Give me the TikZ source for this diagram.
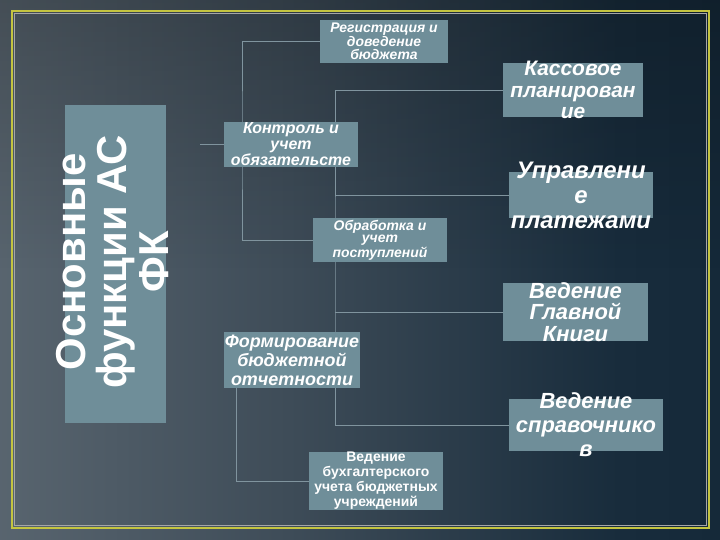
\documentclass[tikz,border=0pt]{standalone}
\usepackage{fontspec}
\setmainfont{Liberation Sans}
\usepackage{xcolor}
\usepackage{tikz}

\definecolor{bgA}{RGB}{74,84,94}
\definecolor{bgB}{RGB}{92,104,114}
\definecolor{bgC}{RGB}{62,76,88}
\definecolor{bgD}{RGB}{24,44,60}
\definecolor{bgE}{RGB}{10,30,46}
\definecolor{boxfill}{RGB}{111,142,153}
\definecolor{connline}{RGB}{128,148,158}
\definecolor{frameyel}{RGB}{196,196,64}
\pgfdeclarehorizontalshading{slidebg}{100bp}{color(0bp)=(bgA); color(22bp)=(bgB); color(45bp)=(bgC); color(68bp)=(bgD); color(100bp)=(bgE)}

\begin{document}
\begin{tikzpicture}[
    x=1bp, y=-1bp,
    box/.style={rectangle, fill=boxfill, inner sep=0pt},
    txt/.style={text=white, align=center, inner sep=0pt, font=\bfseries\itshape},
    conn/.style={connline, line width=0.7bp}
]
\useasboundingbox (0,0) rectangle (720,540);

% background and frame
\shade[shading=slidebg] (0,0) rectangle (720,540);
\begin{scope}[blend mode=multiply]
\shade[top color=black!22, bottom color=white, middle color=white] (0,0) rectangle (720,540);
\end{scope}
\draw[frameyel, line width=2bp] (12,11) rectangle (709,528);
\draw[gray!70, line width=0.5bp] (14.5,13.5) rectangle (706.5,525.5);

\coordinate (busL) at (242,140);
\coordinate (busR) at (335,300);
\coordinate (kstub) at (200,144.5);

\node[box, minimum width=128bp, minimum height=43bp] (reg) at (384,41.5) {};
\node[box, minimum width=134bp, minimum height=45bp] (kon) at (291,144.5) {};
\node[box, minimum width=134bp, minimum height=44bp] (obr) at (380,240) {};
\node[box, minimum width=136bp, minimum height=56bp] (form) at (292,360) {};
\node[box, minimum width=134bp, minimum height=58bp] (buh) at (376,481) {};
\node[box, minimum width=140bp, minimum height=54bp] (kass) at (573,90) {};
\node[box, minimum width=144bp, minimum height=46bp] (upr) at (581,195) {};
\node[box, minimum width=145bp, minimum height=58bp] (glav) at (575.5,312) {};
\node[box, minimum width=154bp, minimum height=52bp] (sprav) at (586,425) {};
\node[box, minimum width=101bp, minimum height=318bp] (main) at (115.5,264) {};

% connectors
\draw[conn] (reg.west) -| (busL) |- (obr.west);
\draw[conn] (kstub) -- (kon.west);
\draw[conn] ([xshift=13bp]form.south west) |- (buh.west);
\draw[conn] (kass.west) -| (busR) |- (sprav.west);
\draw[conn] (upr.west) -- (upr.west -| busR);
\draw[conn] (glav.west) -- (glav.west -| busR);

% boxes again on top of the lines
\foreach \b in {reg,kon,obr,form,buh,kass,upr,glav,sprav,main}
  \fill[boxfill] (\b.north west) rectangle (\b.south east);

\node[txt, font=\bfseries\itshape\fontsize{14}{13}\selectfont] at (reg) {Регистрация и\\доведение\\бюджета};
\node[txt, font=\bfseries\itshape\fontsize{16}{16}\selectfont] at (kon) {Контроль и\\учет\\обязательсте};
\node[txt, font=\bfseries\itshape\fontsize{14}{13}\selectfont] at (obr) {Обработка и\\учет\\поступлений};
\node[txt, font=\bfseries\itshape\fontsize{18}{19}\selectfont] at (form) {Формирование\\бюджетной\\отчетности};
\node[txt, font=\bfseries\fontsize{14}{15}\selectfont] at (buh) {Ведение\\бухгалтерского\\учета бюджетных\\учреждений};
\node[txt, font=\bfseries\itshape\fontsize{21}{21.5}\selectfont] at (kass) {Кассовое\\планирован\\ие};
\node[txt, font=\bfseries\itshape\fontsize{24}{25}\selectfont] at (upr) {Управлени\\е\\платежами};
\node[txt, font=\bfseries\itshape\fontsize{22}{21.5}\selectfont] at (glav) {Ведение\\Главной\\Книги};
\node[txt, font=\bfseries\itshape\fontsize{22}{24}\selectfont] at (sprav) {Ведение\\справочнико\\в};
\node[txt, rotate=90, font=\bfseries\fontsize{42}{42}\selectfont] at ([xshift=-3bp,yshift=2bp]main.center) {Основные\\функции АС\\ФК};

\end{tikzpicture}
\end{document}
